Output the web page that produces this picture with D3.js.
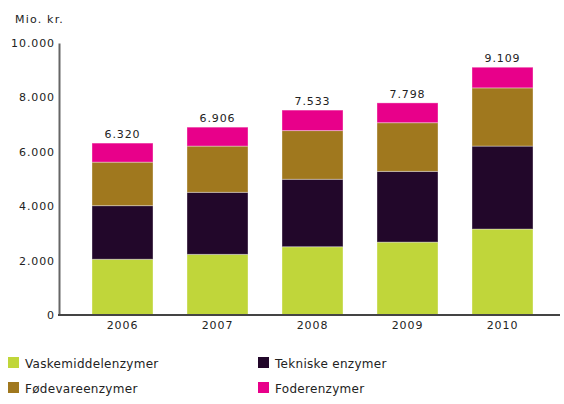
<!DOCTYPE html>
<meta charset="utf-8">
<style>
  body { margin: 0; background: #fff; }
  text { font-family: "DejaVu Sans", Verdana, sans-serif; font-size: 11px; letter-spacing: 0.9px; fill: #222; }
</style>
<body>
<script src="https://d3js.org/d3.v7.min.js"></script>
<script>

var years = ['2006', '2007', '2008', '2009', '2010'];
var seriesNames = ['Vaskemiddelenzymer', 'Tekniske enzymer', 'Fødevareenzymer', 'Foderenzymer'];
var vaske = [2050, 2230, 2510, 2680, 3160];
var tekniske = [1970, 2280, 2480, 2600, 3050];
var foedevare = [1600, 1700, 1790, 1790, 2140];
var foder = [700, 696, 753, 728, 759];
var totalLabels = ['6.320', '6.906', '7.533', '7.798', '9.109'];
var yTicks = [0, 2000, 4000, 6000, 8000, 10000];
var colors = ['#c0d63a', '#22072a', '#a0781e', '#e8008a'];

var W = 564, H = 404;
var svg = d3.select('body').append('svg')
    .attr('width', W).attr('height', H);

var rows = years.map((y, i) => ({
  year: y, total: totalLabels[i],
  s0: vaske[i], s1: tekniske[i], s2: foedevare[i], s3: foder[i]
}));
var stacked = d3.stack().keys(['s0', 's1', 's2', 's3'])(rows);

var x = d3.scaleBand().domain(years).range([75, 550])
    .paddingInner(0.358).paddingOuter(0.179);
var y = d3.scaleLinear().domain([0, 10000]).range([315, 43]);

var fmt = d => d3.format(',')(d).replace(/,/g, '.');

// bars
svg.append('g').selectAll('g')
  .data(stacked).enter().append('g')
    .attr('fill', (d, i) => colors[i])
  .selectAll('rect')
  .data(d => d).enter().append('rect')
    .attr('x', d => x(d.data.year))
    .attr('y', d => y(d[1]))
    .attr('width', x.bandwidth())
    .attr('height', d => y(d[0]) - y(d[1]))
    .attr('stroke', 'rgba(255,255,255,0.35)')
    .attr('stroke-width', 1);

// totals
svg.append('g').selectAll('text')
  .data(rows).enter().append('text')
    .attr('x', d => x(d.year) + x.bandwidth() / 2)
    .attr('y', d => y(d.s0 + d.s1 + d.s2 + d.s3) - 5)
    .attr('text-anchor', 'middle')
    .text(d => d.total);

// y axis
var ya = svg.append('g').attr('transform', 'translate(59,0)')
  .call(d3.axisLeft(y).tickValues(yTicks).tickSize(0).tickPadding(4).tickFormat(fmt));
ya.select('.domain').attr('stroke', '#666').attr('stroke-width', 2);

// x axis
var xa = svg.append('g').attr('transform', 'translate(0,315)')
  .call(d3.axisBottom(x).tickSize(0).tickPadding(6));
xa.select('.domain').remove();
svg.append('line')
  .attr('x1', 58).attr('x2', 560).attr('y1', 315).attr('y2', 315)
  .attr('stroke', '#444').attr('stroke-width', 2);

svg.selectAll('.tick text').style('fill', '#222');

svg.append('text').attr('x', 15).attr('y', 23)
  .style('letter-spacing', '1.2px').text('Mio. kr.');

// legend
var leg = svg.append('g').selectAll('g')
  .data(seriesNames).enter().append('g')
    .attr('transform', (d, i) => `translate(${i % 2 ? 258 : 8},${i < 2 ? 357 : 382})`);
leg.append('rect').attr('width', 11).attr('height', 11)
  .attr('fill', (d, i) => colors[i]);
leg.append('text').attr('x', 17).attr('y', 11)
  .style('font-size', '12px').style('letter-spacing', '0.3px').text(d => d);

</script>
</body>
